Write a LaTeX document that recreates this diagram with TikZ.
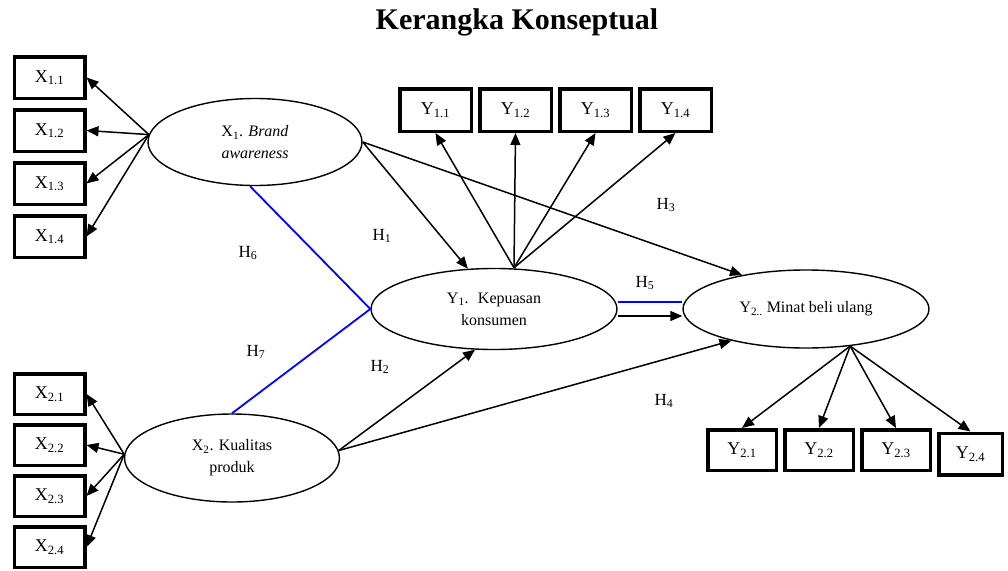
\documentclass[tikz,border=0pt]{standalone}
\usepackage{fontspec}
\setmainfont{Liberation Serif}
\usetikzlibrary{shapes,arrows.meta,positioning,calc}
\definecolor{garisbiru}{RGB}{0,0,255}

\begin{document}
\begin{tikzpicture}[x=1pt, y=-1pt, node distance=8pt]
\tikzstyle{ind} = [rectangle, draw, line width=3.5pt, minimum width=70.5pt, minimum height=41.5pt, inner sep=0pt, font=\fontsize{18}{20}\selectfont];
\tikzstyle{laten} = [ellipse, draw, line width=1.4pt, inner sep=0pt, align=center, font=\fontsize{16}{22}\selectfont];
\tikzstyle{panah} = [line width=1.5pt, -{Triangle[length=12pt,width=10pt]}];
\tikzstyle{biru} = [line width=1.8pt, draw=garisbiru];
\tikzstyle{hip} = [font=\fontsize{17}{20}\selectfont];

\useasboundingbox (0,0) rectangle (1008,570);

\node (judul) [font=\fontsize{30}{34}\selectfont\bfseries] at (517,22) {Kerangka Konseptual};

\node (ba) [laten, minimum width=214pt, minimum height=87pt] at (255,142) {X\textsubscript{1}. \textit{Brand}\\\textit{awareness}};
\node (kp) [laten, minimum width=215pt, minimum height=88pt] at (232,458) {X\textsubscript{2}. Kualitas\\produk};
\node (kk) [laten, minimum width=246pt, minimum height=81pt] at (494,309) {Y\textsubscript{1}.~ Kepuasan\\konsumen};
\node (mb) [laten, minimum width=246pt, minimum height=78pt] at (806,309) {Y\textsubscript{2..} Minat beli ulang};

\node (x11) [ind] at (49.5,77.5) {X\textsubscript{1.1}};
\node (x12) [ind, below=of x11] {X\textsubscript{1.2}};
\node (x13) [ind, below=of x12] {X\textsubscript{1.3}};
\node (x14) [ind, below=of x13] {X\textsubscript{1.4}};

\node (x21) [ind, minimum height=40.5pt] at (49.5,394) {X\textsubscript{2.1}};
\node (x22) [ind, minimum height=40.5pt, below=7pt of x21] {X\textsubscript{2.2}};
\node (x23) [ind, minimum height=40.5pt, below=7pt of x22] {X\textsubscript{2.3}};
\node (x24) [ind, minimum height=40.5pt, below=7pt of x23] {X\textsubscript{2.4}};

\node (y11) [ind, minimum width=71.5pt, minimum height=42.5pt] at (435.5,110) {Y\textsubscript{1.1}};
\node (y12) [ind, minimum width=71.5pt, minimum height=42.5pt, right=5pt of y11] {Y\textsubscript{1.2}};
\node (y13) [ind, minimum width=71.5pt, minimum height=42.5pt, right=5pt of y12] {Y\textsubscript{1.3}};
\node (y14) [ind, minimum width=71.5pt, minimum height=42.5pt, right=5pt of y13] {Y\textsubscript{1.4}};

\node (y21) [ind, minimum width=68.5pt, minimum height=40.5pt] at (742,450) {Y\textsubscript{2.1}};
\node (y22) [ind, minimum width=68.5pt, minimum height=40.5pt, right=5pt of y21] {Y\textsubscript{2.2}};
\node (y23) [ind, minimum width=68.5pt, minimum height=40.5pt, right=5pt of y22] {Y\textsubscript{2.3}};
\node (y24) [ind, minimum width=63.5pt, minimum height=41.5pt, right=5pt of y23, yshift=-4pt] {Y\textsubscript{2.4}};

\draw [panah] (ba.176) -- (x11.east);
\draw [panah] (ba.176) -- (x12.east);
\draw [panah] (ba.176) -- (x13.east);
\draw [panah] (ba.176) -- (x14.east);

\draw [panah] (kp.178) -- (x21.east);
\draw [panah] (kp.178) -- (x22.east);
\draw [panah] (kp.178) -- (x23.east);
\draw [panah] (kp.178) -- (x24.east);

\draw [panah] ([xshift=20pt]kk.north) -- (y11.south);
\draw [panah] ([xshift=20pt]kk.north) -- (y12.south);
\draw [panah] ([xshift=20pt]kk.north) -- (y13.south);
\draw [panah] ([xshift=20pt]kk.north) -- (y14.south);

\draw [panah] (mb.320) -- (y21.north);
\draw [panah] (mb.320) -- (y22.north);
\draw [panah] (mb.320) -- (y23.north);
\draw [panah] (mb.320) -- (y24.north);

\draw [panah] (ba.east) -- (kk.123);
\draw [panah] (ba.east) -- (mb.152);
\draw [panah] (kp.4) -- (kk.245);
\draw [panah] (kp.4) -- (mb.203);
\draw [panah] ([yshift=-7pt]kk.east) -- ([yshift=-7pt]mb.west);
\draw [biru] ([yshift=7pt]kk.east) -- ([yshift=7pt]mb.west);
\draw [biru] ([xshift=-5pt]ba.south) -- (kk.west) -- (kp.north);

\node (h1) [hip] at (382,236) {H\textsubscript{1}};
\node (h2) [hip] at (380,367) {H\textsubscript{2}};
\node (h3) [hip] at (666,205) {H\textsubscript{3}};
\node (h4) [hip] at (664,401) {H\textsubscript{4}};
\node (h5) [hip] at (645,283) {H\textsubscript{5}};
\node (h6) [hip] at (248,253) {H\textsubscript{6}};
\node (h7) [hip] at (256,352) {H\textsubscript{7}};
\end{tikzpicture}
\end{document}
